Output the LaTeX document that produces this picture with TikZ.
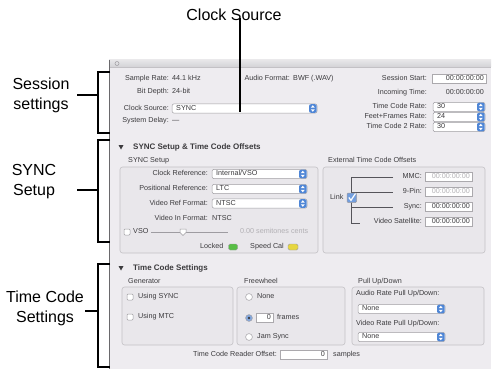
\documentclass[tikz,border=0pt]{standalone}
\usepackage{fontspec}
\setmainfont{Liberation Sans}
\usetikzlibrary{calc}

\definecolor{winbg}{HTML}{EEECF0}
\definecolor{titlebar}{HTML}{D3D2D6}
\definecolor{winedge}{HTML}{6A696C}
\definecolor{grpfill}{HTML}{E9E7EB}
\definecolor{grpline}{HTML}{C3C1C5}
\definecolor{uitext}{HTML}{3C3B3E}
\definecolor{uidim}{HTML}{B2B0B4}
\definecolor{fieldline}{HTML}{ABA9AD}
\definecolor{popline}{HTML}{9E9CA1}
\definecolor{popblue}{HTML}{4F86D6}
\definecolor{ledgreen}{HTML}{58BE45}
\definecolor{ledyellow}{HTML}{E6D640}
\definecolor{linkline}{HTML}{55545A}

\tikzset{
  callout/.style={font=\fontsize{16}{20}\selectfont, align=center, inner sep=0pt, text=black},
  brk/.style={line width=1.5pt, black},
  ui/.style={font=\fontsize{7.2}{8}\selectfont, text=uitext, inner sep=0pt, text height=5.2pt, text depth=1.5pt},
  uir/.style={ui, anchor=east},
  uil/.style={ui, anchor=west},
  uidim/.style={uil, text=uidim},
  head/.style={font=\bfseries\fontsize{8}{9}\selectfont, text=uitext, inner sep=0pt, anchor=west, text height=5.8pt, text depth=1.6pt},
  group/.style={draw=grpline, fill=grpfill, rounded corners=2.5pt, line width=0.6pt},
  field/.style={draw=fieldline, fill=white, line width=0.5pt},
  chkbox/.style={draw=popline, fill=white, rounded corners=1pt, line width=0.5pt},
  linkln/.style={draw=linkline, line width=1pt},
}

% pop-up menu: name, left x, right x, centre y, shown value
\newcommand\uipopup[5]{%
  \draw[draw=popline, fill=white, rounded corners=2pt, line width=0.5pt]
    (#2,#4-4.6) rectangle (#3,#4+4.6);
  \fill[popblue, rounded corners=2pt] (#3-8,#4-4.3) rectangle (#3-0.3,#4+4.3);
  \fill[white] (#3-4.2,#4-3.3) -- (#3-6.2,#4-0.8) -- (#3-2.2,#4-0.8) -- cycle;
  \fill[white] (#3-4.2,#4+3.3) -- (#3-6.2,#4+0.8) -- (#3-2.2,#4+0.8) -- cycle;
  \node[uil] (#1) at (#2+4,#4) {#5};
}
% text field with right-aligned value: name, left x, right x, centre y, value, text colour
\newcommand\uifield[6]{%
  \draw[field] (#2,#4-4.5) rectangle (#3,#4+4.5);
  \node[uir, text=#6] (#1) at (#3-2,#4) {#5};
}
% check box: x, y (centre)
\newcommand\uicheck[2]{%
  \draw[chkbox] (#1-3,#2-3) rectangle (#1+3,#2+3);
}
% radio button: x, y, selected (1) or not (0)
\newcommand\uiradio[3]{%
  \ifnum#3=1
    \draw[draw=popline, fill=popblue!70!white, line width=0.5pt] (#1,#2) circle (3.4);
    \fill[uitext] (#1,#2) circle (1.3);
  \else
    \draw[draw=popline, fill=white, line width=0.5pt] (#1,#2) circle (3.4);
  \fi
}

\begin{document}
\begin{tikzpicture}[x=1pt, y=-1pt]
\useasboundingbox (0,0) rectangle (493,369);
\fill[white] (0,0) rectangle (493,369);

% ---------- window ----------
\fill[winbg] (109,60) rectangle (491,369);
\shade[top color=titlebar!55!white, bottom color=titlebar] (109,60) rectangle (491,67);
\draw[grpline, line width=0.5pt] (109,67) -- (491,67);
\draw[popline, line width=0.5pt] (117,63.5) circle (2);
\draw[winedge, line width=1pt] (109.5,60) -- (109.5,369);

% ---------- session settings ----------
\node[uir] (srl) at (169,79) {Sample Rate:};
\node[uil] (srv) at (172,79) {44.1 kHz};
\node[uir] (bdl) at (169,92) {Bit Depth:};
\node[uil] (bdv) at (172,92) {24-bit};
\node[uir] (csl) at (169,108.5) {Clock Source:};
\uipopup{csp}{172}{317}{108.5}{SYNC}
\node[uir] (sdl) at (169,121) {System Delay:};
\node[uil] (sdv) at (172,121) {---};
\node[uir] (afl) at (290,79) {Audio Format:};
\node[uil] (afv) at (293,79) {BWF (.WAV)};

\node[uir] (ssl) at (427,79) {Session Start:};
\uifield{ssv}{432}{486}{79}{00:00:00:00}{uitext}
\node[uir] (itl) at (427,93) {Incoming Time:};
\node[uir] (itv) at (484,93) {00:00:00:00};
\node[uir] (tcrl) at (427,107) {Time Code Rate:};
\uipopup{tcrp}{433}{485}{107}{30}
\node[uir] (ffl) at (427,117) {Feet+Frames Rate:};
\uipopup{ffp}{433}{485}{117}{24}
\node[uir] (tc2l) at (427,127) {Time Code 2 Rate:};
\uipopup{tc2p}{433}{485}{127}{30}

% ---------- SYNC setup & time code offsets ----------
\fill[uitext] (118.5,145) -- (123.5,145) -- (121,149.5) -- cycle;
\node[head] (synchead) at (133,147) {SYNC Setup \& Time Code Offsets};

\node[uil] (sstitle) at (128,161) {SYNC Setup};
\draw[group] (120,167) rectangle (318,253);
\node[uir] (crl) at (208,174) {Clock Reference:};
\uipopup{crp}{212}{307}{174}{Internal/VSO}
\node[uir] (prl) at (208,189) {Positional Reference:};
\uipopup{prp}{212}{307}{189}{LTC}
\node[uir] (vrl) at (208,203.5) {Video Ref Format:};
\uipopup{vrp}{212}{307}{203.5}{NTSC}
\node[uir] (vil) at (208,219) {Video In Format:};
\node[uil] (viv) at (212,219) {NTSC};

\uicheck{127}{232}
\node[uil] (vso) at (133,232) {VSO};
\draw[popline, line width=0.8pt] (151,232) -- (228,232);
\draw[popline, fill=white, line width=0.5pt]
  (180,229) -- (186,229) -- (186,232.5) -- (183,235.5) -- (180,232.5) -- cycle;
\node[uidim] (vsov) at (240,232) {0.00 semitones cents};
\node[uil] (lockl) at (200,247) {Locked};
\draw[popline, fill=ledgreen, rounded corners=1.5pt, line width=0.4pt] (228.5,244) rectangle (237.5,250);
\node[uil] (scl) at (250,247) {Speed Cal};
\draw[popline, fill=ledyellow, rounded corners=1.5pt, line width=0.4pt] (288,244) rectangle (298,250);

\node[uil] (extitle) at (328,161) {External Time Code Offsets};
\draw[group] (323,167) rectangle (485,253);
\draw[linkln] (393,177) -- (351,177) -- (351,223) -- (360,223);
\draw[linkln] (351,192) -- (393,192);
\draw[linkln] (351,207) -- (393,207);
\node[uil] (linkl) at (330,198) {Link};
\draw[draw=popline, fill=popblue!80!white, rounded corners=1pt, line width=0.5pt] (347,193) rectangle (356.5,202.5);
\draw[white, line width=1.2pt] (348.8,197.5) -- (351,200.3) -- (355.5,193.5);
\node[uir] (mmcl) at (422,177) {MMC:};
\uifield{mmcv}{425}{472}{177}{00:00:00:00}{uidim}
\node[uir] (npl) at (422,192) {9-Pin:};
\uifield{npv}{425}{472}{192}{00:00:00:00}{uidim}
\node[uir] (syl) at (422,207) {Sync:};
\uifield{syv}{425}{472}{207}{00:00:00:00}{uitext}
\node[uir] (vsl) at (422,222) {Video Satellite:};
\uifield{vsv}{425}{472}{222}{00:00:00:00}{uitext}

% ---------- time code settings ----------
\fill[uitext] (118.5,266) -- (123.5,266) -- (121,270.5) -- cycle;
\node[head] (tchead) at (133,268) {Time Code Settings};

\node[uil] (gent) at (128,282) {Generator};
\draw[group] (122,287) rectangle (233,345);
\uicheck{130}{297}
\node[uil] (usync) at (138,297) {Using SYNC};
\uicheck{130}{317}
\node[uil] (umtc) at (138,317) {Using MTC};

\node[uil] (fwt) at (244,282) {Freewheel};
\draw[group] (237,287) rectangle (345,345);
\uiradio{249}{297}{0}
\node[uil] (fwnone) at (257,297) {None};
\uiradio{249}{318}{1}
\uifield{fwv}{256}{273}{318}{0}{uitext}
\node[uil] (fwfr) at (277,318) {frames};
\uiradio{249}{337}{0}
\node[uil] (fwjam) at (257,337) {Jam Sync};

\node[uil] (put) at (358,282) {Pull Up/Down};
\draw[group] (352,287) rectangle (484,345);
\node[uil] (arl) at (356,294) {Audio Rate Pull Up/Down:};
\uipopup{arp}{358}{445}{309}{None}
\node[uil] (vrpl) at (356,324) {Video Rate Pull Up/Down:};
\uipopup{vrpp}{358}{445}{337}{None}

\node[uir] (tcrol) at (277,355) {Time Code Reader Offset:};
\uifield{tcrov}{280}{327}{355}{0}{uitext}
\node[uil] (tcros) at (333,355) {samples};

% ---------- callouts ----------
\node[callout] (clklbl) at (234,15) {Clock Source};
\coordinate (clkpt) at (240,112);
\draw[brk] (clklbl.south -| clkpt) ++(0,-3) -- (clkpt);

\node[callout] (seslbl) at (41,95) {Session\\settings};
\coordinate (sesT) at (110,72);
\coordinate (sesB) at (110,133);
\coordinate (sesA) at (77,95);
\draw[brk] (sesT) -- (98,72) -- (98,133) -- (sesB);
\draw[brk] (sesA) -- (98,95);

\node[callout] (synlbl) at (34,182) {SYNC\\Setup};
\coordinate (synT) at (110,140);
\coordinate (synB) at (110,242);
\coordinate (synA) at (77,190);
\draw[brk] (synT) -- (98,140) -- (98,242) -- (synB);
\draw[brk] (synA) -- (98,190);

\node[callout] (tcslbl) at (45,308) {Time Code\\Settings};
\coordinate (tcsT) at (110,264);
\coordinate (tcsB) at (110,367);
\coordinate (tcsA) at (85,311);
\draw[brk] (tcsT) -- (98,264) -- (98,367) -- (tcsB);
\draw[brk] (tcsA) -- (98,311);
\end{tikzpicture}
\end{document}
